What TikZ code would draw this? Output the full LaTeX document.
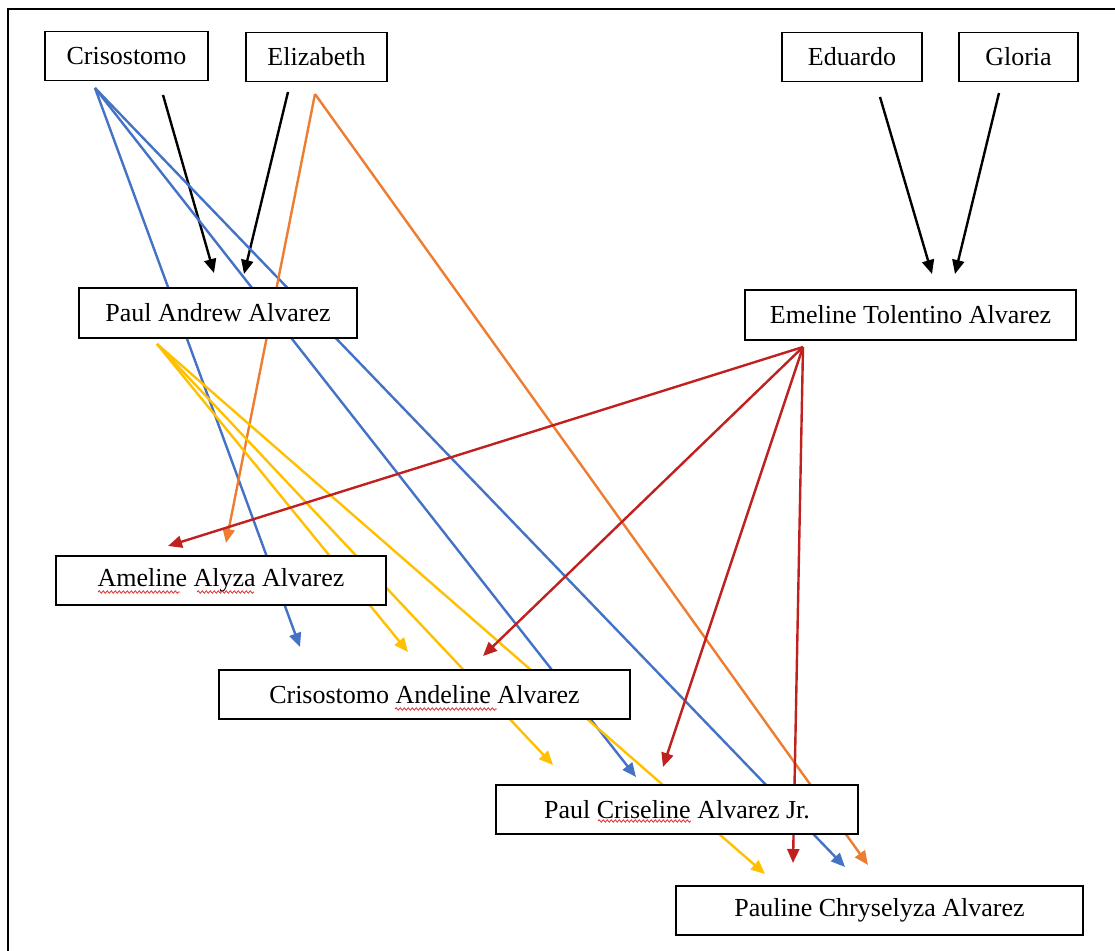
\documentclass[tikz,border=0pt]{standalone}
\usepackage{fontspec}
\setmainfont{Liberation Serif}
\usepackage{xcolor}
\usepackage{tikz}
\usetikzlibrary{arrows.meta, backgrounds, decorations.pathmorphing}
\definecolor{kidblue}{HTML}{4472C4}
\definecolor{kidorange}{HTML}{ED7D31}
\definecolor{kidyellow}{HTML}{FFC000}
\definecolor{kidred}{HTML}{C0201E}
\definecolor{spellred}{HTML}{E03030}
\tikzset{P/.style={draw, fill=white, line width=0.75pt, inner sep=0pt,
    minimum height=24.5pt, font=\fontsize{13}{15}\selectfont}}
\tikzset{E/.style={draw, line width=1.2pt, -{Triangle[length=7pt, width=6pt]}}}
\tikzset{S/.style={draw=spellred, line width=0.4pt, decorate,
    decoration={snake, amplitude=0.6pt, segment length=2pt}}}

\begin{document}
\begin{tikzpicture}[x=0.5pt, y=-0.5pt]
    \useasboundingbox (0,0) rectangle (1115,951);
    \draw[line width=1.3pt] (8,951) -- (8,9) -- (1115,9);

    %% Parents and grandparents
    \node[P, minimum width=81.5pt] (criso) at (126.5,56) {Crisostomo};
    \node[P, minimum width=70.5pt] (eliz) at (316.5,57) {Elizabeth};
    \node[P, minimum width=70pt] (edu) at (852,57) {Eduardo};
    \node[P, minimum width=59.5pt] (gloria) at (1018.5,57) {Gloria};
    \node[P, minimum width=139pt, minimum height=25pt] (paul) at (218,313) {Paul Andrew Alvarez};
    \node[P, minimum width=165.5pt, minimum height=25pt] (emeline) at (910.5,315) {Emeline Tolentino Alvarez};

    %% Children
    \node[P, minimum width=165pt] (ameline) at (221,580.5) {Ameline Alyza Alvarez};
    \node[P, minimum width=205.5pt] (andeline) at (424.5,694.5) {Crisostomo Andeline Alvarez};
    \node[P, minimum width=181pt] (criseline) at (677,809.5) {Paul Criseline Alvarez Jr.};
    \node[P, minimum width=203.5pt] (pauline) at (879.5,910.5) {Pauline Chryselyza Alvarez};

    %% Spelling marks
    \draw[S] (98,592) -- (180,592);
    \draw[S] (197,592) -- (254,592);
    \draw[S] (395,709) -- (497,709);
    \draw[S] (598,821) -- (691,821);

    %% Free ends of the arrows
    \coordinate (crisoDn) at (163,95);
    \coordinate (crisoOut) at (95,88);
    \coordinate (elizDn) at (288,92);
    \coordinate (elizOut) at (315,94);
    \coordinate (eduDn) at (880,97);
    \coordinate (gloDn) at (999,93);
    \coordinate (paulIn1) at (214,273);
    \coordinate (paulIn2) at (244,274);
    \coordinate (paulOut) at (157,344);
    \coordinate (emeIn1) at (932,274);
    \coordinate (emeIn2) at (955,274);
    \coordinate (emeOut) at (803,347);

    \coordinate (amelineB) at (226,543);
    \coordinate (amelineR) at (168,546);
    \coordinate (andelineB) at (300,647);
    \coordinate (andelineY) at (408,652);
    \coordinate (andelineR) at (483,656);
    \coordinate (criselineY) at (553,765);
    \coordinate (criselineB) at (636,777);
    \coordinate (criselineR) at (663,767);
    \coordinate (paulineY) at (765,874);
    \coordinate (paulineR) at (793,863);
    \coordinate (paulineB) at (845,867);
    \coordinate (paulineO) at (868,865);

    %% Arrows behind the boxes
    \begin{pgfonlayer}{background}
      \draw[E, black] (crisoDn) -- (paulIn1);
      \draw[E, black] (elizDn) -- (paulIn2);
      \draw[E, black] (eduDn) -- (emeIn1);
      \draw[E, black] (gloDn) -- (emeIn2);

      \draw[E, kidblue] (crisoOut) -- (andelineB);
      \draw[E, kidblue] (crisoOut) -- (criselineB);
      \draw[E, kidblue] (crisoOut) -- (paulineB);

      \draw[E, kidorange] (elizOut) -- (amelineB);
      \draw[E, kidorange] (elizOut) -- (paulineO);

      \draw[E, kidyellow] (paulOut) -- (andelineY);
      \draw[E, kidyellow] (paulOut) -- (criselineY);
      \draw[E, kidyellow] (paulOut) -- (paulineY);

      \draw[E, kidred] (emeOut) -- (amelineR);
      \draw[E, kidred] (emeOut) -- (andelineR);
      \draw[E, kidred] (emeOut) -- (criselineR);
      \draw[E, kidred] (emeOut) -- (paulineR);
    \end{pgfonlayer}

\end{tikzpicture}
\end{document}
